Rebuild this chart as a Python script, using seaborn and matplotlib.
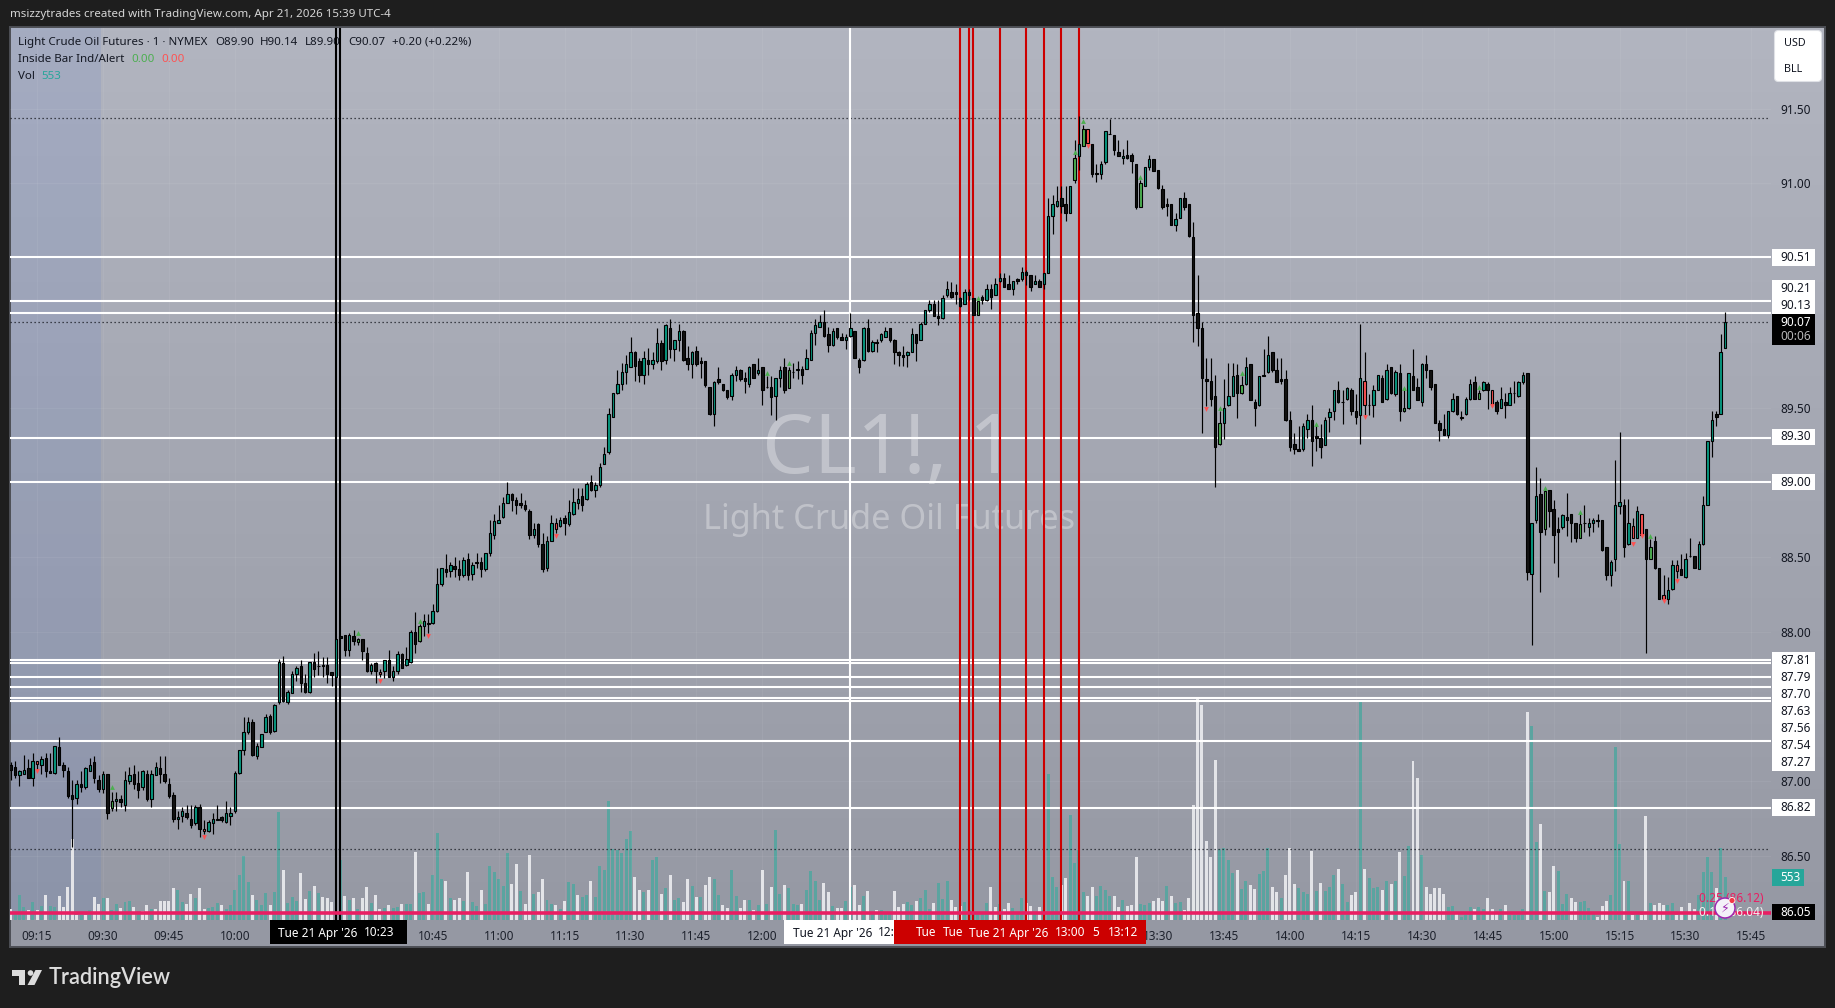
import numpy as np
import pandas as pd
import matplotlib
matplotlib.use("Agg")
import matplotlib.pyplot as plt
from matplotlib.colors import LinearSegmentedColormap
from matplotlib.patches import Rectangle, FancyBboxPatch, Polygon, Circle
import seaborn as sns

# ---------- data (one entry per 1-minute bar, 09:09 .. 15:39) ----------
body_top = [
87.11,87.10,87.07,87.08,87.09,87.14,87.14,87.15,87.16,87.07,
87.24,87.23,87.11,87.07,86.91,86.98,86.98,87.09,87.11,87.13,
87.01,87.05,87.05,86.87,86.88,86.88,87.01,87.04,87.05,86.99,
87.07,87.05,87.05,87.10,87.09,87.05,86.98,86.91,86.76,86.80,
86.79,86.75,86.83,86.83,86.68,86.73,86.75,86.75,86.76,86.79,
86.79,87.06,87.21,87.33,87.40,87.40,87.24,87.32,87.43,87.44,
87.51,87.80,87.79,87.60,87.72,87.76,87.77,87.66,87.80,87.80,
87.77,87.78,87.78,87.73,87.95,87.97,87.98,87.98,87.97,87.95,
87.95,87.86,87.78,87.79,87.73,87.81,87.81,87.74,87.85,87.85,
87.82,88.00,88.00,88.04,88.07,88.06,88.14,88.32,88.43,88.42,
88.45,88.44,88.42,88.48,88.49,88.45,88.47,88.47,88.53,88.66,
88.74,88.75,88.86,88.92,88.92,88.88,88.86,88.85,88.81,88.69,
88.72,88.59,88.61,88.73,88.73,88.75,88.76,88.80,88.87,88.89,
88.91,88.99,89.00,88.98,89.10,89.19,89.46,89.60,89.66,89.74,
89.79,89.87,89.87,89.81,89.83,89.82,89.82,89.93,89.93,90.05,
90.03,89.95,90.01,90.01,89.83,89.87,89.88,89.81,89.81,89.64,
89.67,89.69,89.66,89.62,89.72,89.75,89.75,89.70,89.77,89.79,
89.75,89.77,89.64,89.64,89.70,89.75,89.77,89.75,89.74,89.76,
89.76,89.83,90.00,90.05,90.07,90.07,89.99,90.01,90.03,89.97,
89.97,90.03,90.01,89.82,90.03,90.03,89.94,89.94,89.99,90.01,
90.03,89.95,89.87,89.85,89.87,89.99,89.99,90.06,90.15,90.19,
90.19,90.11,90.23,90.29,90.27,90.27,90.23,90.27,90.27,90.23,
90.21,90.24,90.29,90.29,90.33,90.37,90.37,90.33,90.35,90.36,
90.41,90.41,90.39,90.35,90.35,90.40,90.78,90.86,90.88,90.90,
90.86,90.98,91.17,91.26,91.36,91.36,91.26,91.07,91.13,91.35,
91.33,91.32,91.21,91.18,91.19,91.19,91.13,91.00,91.11,91.16,
91.16,91.09,90.96,90.86,90.86,90.76,90.90,90.90,90.86,90.64,
90.13,90.03,89.69,89.68,89.58,89.40,89.50,89.58,89.71,89.72,
89.65,89.77,89.79,89.54,89.71,89.72,89.85,89.87,89.75,89.69,
89.69,89.42,89.26,89.22,89.38,89.42,89.42,89.31,89.30,89.42,
89.47,89.62,89.62,89.54,89.63,89.62,89.48,89.70,89.68,89.52,
89.62,89.72,89.70,89.75,89.77,89.74,89.73,89.50,89.73,89.71,
89.64,89.79,89.79,89.75,89.66,89.40,89.36,89.48,89.56,89.58,
89.44,89.56,89.66,89.67,89.60,89.67,89.66,89.62,89.54,89.56,
89.54,89.60,89.60,89.67,89.72,89.73,88.73,88.91,88.92,88.94,
88.95,88.82,88.69,88.78,88.77,88.79,88.73,88.72,88.73,88.73,
88.75,88.75,88.75,88.57,88.47,88.85,88.87,88.85,88.73,88.71,
88.81,88.79,88.69,88.57,88.61,88.43,88.25,88.28,88.45,88.45,
88.42,88.49,88.51,88.51,88.59,88.85,89.28,89.42,89.46,89.87,90.07]
body_bot = [
87.08,87.04,87.04,87.05,87.02,87.02,87.12,87.11,87.07,87.06,
87.06,87.11,87.08,86.90,86.88,86.89,86.96,86.96,87.07,87.02,
86.95,86.95,86.79,86.82,86.87,86.86,86.84,87.00,86.98,86.94,
86.96,86.88,86.88,87.04,87.05,87.00,86.90,86.75,86.75,86.77,
86.76,86.71,86.72,86.68,86.67,86.67,86.72,86.74,86.74,86.73,
86.77,86.80,87.06,87.21,87.33,87.18,87.17,87.23,87.33,87.33,
87.34,87.53,87.54,87.53,87.59,87.72,87.66,87.60,87.60,87.75,
87.77,87.77,87.72,87.71,87.70,87.96,87.88,87.88,87.94,87.93,
87.87,87.74,87.74,87.74,87.72,87.74,87.70,87.70,87.74,87.76,
87.78,87.80,87.92,87.94,88.04,88.05,88.06,88.14,88.32,88.40,
88.41,88.42,88.38,88.38,88.38,88.39,88.46,88.42,88.42,88.53,
88.65,88.73,88.77,88.86,88.88,88.85,88.85,88.82,88.65,88.65,
88.59,88.42,88.43,88.61,88.69,88.71,88.73,88.72,88.79,88.86,
88.85,88.89,88.95,88.95,88.98,89.12,89.20,89.44,89.60,89.66,
89.74,89.77,89.78,89.72,89.72,89.79,89.79,89.81,89.81,89.82,
89.89,89.89,89.95,89.82,89.79,89.79,89.79,89.80,89.65,89.46,
89.46,89.67,89.62,89.57,89.58,89.72,89.69,89.68,89.66,89.70,
89.73,89.62,89.64,89.57,89.58,89.70,89.62,89.63,89.74,89.75,
89.72,89.76,89.82,90.00,90.04,89.98,89.92,89.92,89.97,89.95,
89.95,89.98,89.83,89.77,89.82,89.88,89.88,89.93,89.95,89.97,
89.95,89.87,89.85,89.84,89.85,89.87,89.93,89.95,90.06,90.15,
90.11,90.10,90.10,90.25,90.24,90.26,90.18,90.19,90.25,90.12,
90.12,90.22,90.22,90.24,90.25,90.35,90.31,90.29,90.29,90.35,
90.36,90.39,90.31,90.33,90.31,90.33,90.40,90.78,90.85,90.85,
90.80,90.80,91.02,91.18,91.25,91.27,91.06,91.06,91.06,91.14,
91.33,91.22,91.18,91.17,91.17,91.15,90.84,90.84,90.98,91.11,
91.08,90.97,90.84,90.85,90.72,90.72,90.77,90.84,90.65,90.12,
90.03,89.70,89.68,89.56,89.24,89.26,89.40,89.52,89.58,89.60,
89.60,89.66,89.55,89.50,89.52,89.71,89.74,89.75,89.67,89.68,
89.42,89.24,89.22,89.21,89.22,89.36,89.28,89.30,89.24,89.25,
89.44,89.48,89.54,89.54,89.56,89.48,89.44,89.45,89.52,89.52,
89.52,89.62,89.54,89.56,89.60,89.59,89.48,89.48,89.50,89.62,
89.55,89.54,89.75,89.64,89.40,89.35,89.32,89.32,89.48,89.46,
89.43,89.46,89.56,89.56,89.56,89.62,89.62,89.52,89.48,89.50,
89.52,89.52,89.60,89.58,89.67,88.40,88.39,88.75,88.67,88.69,
88.81,88.65,88.67,88.70,88.75,88.73,88.63,88.63,88.73,88.70,
88.73,88.74,88.55,88.38,88.38,88.49,88.84,88.57,88.59,88.63,
88.63,88.65,88.49,88.49,88.43,88.22,88.22,88.22,88.29,88.41,
88.38,88.37,88.51,88.43,88.42,88.59,88.85,89.28,89.44,89.46,89.90]
highs = [
87.13,87.14,87.08,87.18,87.15,87.19,87.14,87.17,87.19,87.19,
87.24,87.30,87.13,87.10,87.01,87.01,87.07,87.10,87.16,87.17,
87.04,87.07,87.05,86.93,86.93,86.91,87.07,87.10,87.11,87.07,
87.08,87.08,87.08,87.13,87.17,87.17,87.02,86.93,86.80,86.83,
86.84,86.84,86.84,86.85,86.74,86.74,86.79,86.84,86.77,86.87,
86.83,87.07,87.21,87.43,87.43,87.42,87.26,87.32,87.45,87.45,
87.52,87.82,87.84,87.61,87.74,87.77,87.81,87.72,87.80,87.86,
87.87,87.83,87.83,87.73,87.95,87.97,87.98,87.99,88.01,87.96,
87.95,87.90,87.79,87.80,87.75,87.81,87.88,87.77,87.87,87.86,
87.90,88.01,88.13,88.05,88.12,88.12,88.19,88.43,88.43,88.52,
88.47,88.50,88.48,88.50,88.53,88.47,88.53,88.50,88.53,88.75,
88.79,88.85,88.90,89.00,88.93,88.90,88.93,88.88,88.82,88.73,
88.73,88.66,88.64,88.78,88.76,88.77,88.78,88.88,88.96,88.96,
88.96,89.00,89.05,89.00,89.13,89.24,89.50,89.60,89.75,89.80,
89.85,89.97,89.88,89.83,89.88,89.90,89.87,90.03,89.95,90.06,
90.09,89.95,90.06,90.02,89.91,89.88,89.91,89.84,89.81,89.64,
89.68,89.77,89.66,89.62,89.73,89.78,89.76,89.74,89.78,89.79,
89.83,89.77,89.71,89.71,89.70,89.78,89.83,89.77,89.80,89.81,
89.78,89.89,90.02,90.09,90.12,90.15,90.04,90.03,90.03,90.00,
89.99,90.13,90.01,89.83,90.04,90.09,89.95,89.96,90.00,90.04,
90.03,89.96,89.88,89.91,89.88,90.03,89.99,90.07,90.15,90.22,
90.22,90.22,90.25,90.35,90.34,90.33,90.24,90.29,90.29,90.23,
90.21,90.25,90.33,90.33,90.37,90.40,90.40,90.39,90.35,90.37,
90.44,90.42,90.39,90.39,90.36,90.40,90.90,90.92,90.98,90.98,
90.98,90.98,91.29,91.45,91.39,91.36,91.26,91.13,91.15,91.35,
91.43,91.32,91.29,91.23,91.29,91.20,91.13,91.02,91.11,91.19,
91.16,91.09,90.99,90.90,90.86,90.80,90.90,90.94,90.86,90.74,
90.39,90.07,89.83,89.83,89.72,89.48,89.69,89.80,89.80,89.79,
89.71,89.84,89.79,89.56,89.71,89.89,89.98,89.87,89.83,89.83,
89.75,89.48,89.33,89.38,89.40,89.46,89.52,89.39,89.39,89.44,
89.50,89.62,89.68,89.62,89.64,89.63,89.59,90.06,89.87,89.59,
89.65,89.72,89.72,89.79,89.77,89.75,89.79,89.63,89.73,89.89,
89.70,89.80,89.85,89.75,89.66,89.42,89.46,89.48,89.60,89.58,
89.48,89.57,89.69,89.71,89.62,89.68,89.67,89.62,89.55,89.64,
89.60,89.64,89.68,89.68,89.74,89.73,88.73,89.10,89.03,88.96,
88.95,88.88,88.77,88.79,88.93,88.79,88.73,88.79,88.85,88.76,
88.76,88.79,88.75,88.57,88.48,89.15,89.34,88.89,88.89,88.76,
88.84,88.79,88.69,88.62,88.64,88.43,88.38,88.37,88.48,88.48,
88.52,88.53,88.63,88.51,88.61,88.91,89.28,89.48,89.48,89.99,90.14]
lows = [
87.01,87.02,86.97,87.05,87.02,86.97,87.08,87.05,87.03,87.06,
87.05,87.11,87.03,86.89,86.56,86.85,86.93,86.95,87.07,86.99,
86.93,86.92,86.75,86.80,86.80,86.83,86.80,86.98,86.95,86.89,
86.94,86.87,86.83,87.04,86.99,86.99,86.89,86.73,86.68,86.73,
86.75,86.69,86.71,86.63,86.65,86.66,86.65,86.74,86.73,86.72,
86.71,86.79,87.05,87.18,87.32,87.17,87.15,87.23,87.33,87.32,
87.33,87.52,87.53,87.52,87.59,87.67,87.60,87.59,87.59,87.70,
87.71,87.70,87.66,87.64,87.70,87.96,87.84,87.84,87.91,87.91,
87.81,87.73,87.72,87.66,87.70,87.69,87.70,87.67,87.72,87.76,
87.77,87.79,87.86,87.93,87.97,87.99,88.05,88.13,88.31,88.37,
88.37,88.37,88.35,88.37,88.35,88.35,88.43,88.37,88.41,88.51,
88.62,88.73,88.76,88.86,88.81,88.79,88.83,88.81,88.62,88.63,
88.57,88.40,88.41,88.61,88.66,88.70,88.65,88.71,88.78,88.82,
88.81,88.88,88.94,88.90,88.97,89.12,89.19,89.44,89.59,89.62,
89.66,89.77,89.68,89.67,89.66,89.72,89.76,89.80,89.75,89.79,
89.83,89.81,89.88,89.81,89.75,89.70,89.78,89.70,89.64,89.45,
89.38,89.66,89.61,89.56,89.55,89.68,89.68,89.60,89.64,89.70,
89.72,89.52,89.63,89.45,89.42,89.64,89.60,89.63,89.70,89.69,
89.66,89.76,89.82,89.92,90.04,89.97,89.87,89.91,89.96,89.95,
89.89,89.97,89.83,89.73,89.81,89.87,89.87,89.87,89.94,89.97,
89.94,89.79,89.78,89.78,89.77,89.87,89.81,89.95,90.06,90.14,
90.11,90.05,90.09,90.24,90.23,90.19,90.17,90.19,90.22,90.12,
90.12,90.19,90.21,90.16,90.25,90.34,90.31,90.29,90.25,90.33,
90.35,90.32,90.28,90.33,90.31,90.29,90.40,90.66,90.84,90.80,
90.75,90.80,91.00,91.09,91.25,91.27,91.04,91.01,91.03,91.13,
91.33,91.19,91.18,91.13,91.16,91.07,90.83,90.84,90.98,91.09,
91.08,90.96,90.83,90.78,90.72,90.68,90.77,90.82,90.64,89.94,
89.91,89.33,89.51,89.51,88.97,89.25,89.29,89.51,89.58,89.43,
89.59,89.65,89.55,89.38,89.51,89.71,89.73,89.74,89.67,89.66,
89.41,89.21,89.19,89.21,89.21,89.30,89.11,89.21,89.16,89.25,
89.34,89.42,89.53,89.39,89.55,89.45,89.39,89.26,89.45,89.45,
89.44,89.62,89.54,89.55,89.59,89.58,89.41,89.47,89.49,89.62,
89.55,89.51,89.70,89.62,89.40,89.28,89.32,89.30,89.47,89.45,
89.42,89.45,89.55,89.56,89.56,89.61,89.49,89.51,89.46,89.50,
89.43,89.52,89.53,89.57,89.66,88.35,87.91,88.73,88.27,88.65,
88.70,88.46,88.37,88.69,88.64,88.60,88.60,88.63,88.67,88.64,
88.67,88.70,88.54,88.35,88.31,88.41,88.79,88.50,88.58,88.63,
88.63,88.65,87.86,88.49,88.42,88.22,88.22,88.19,88.28,88.36,
88.38,88.36,88.50,88.43,88.42,88.58,88.85,89.17,89.38,89.46,89.90]
candle_kind = (
"kkggkgRgkk" "gkkkkgkggk" "kgkGgkggkk" "gkggkkkkgg" "kkgkRggkkg"
"gggggkgggk" "ggkgggkkgk" "kkkkgkkgkG" "kkgkRgkggk" "ggkGgRgggk"
"gkkgkgkkgg" "ggggkkkkkg" "kkggRgkggg" "kgkggggggg" "ggkkgkggkg"
"kggkkgkkkk" "gkkkggkkgk" "gkkkggkGkg" "kggggkkgkk" "ggkkgkgkgg"
"kkkkggkggg" "kkggkkkgkk" "Gkgkggkkgk" "gkkgkggggk" "kgGgGRkkgg"
"kkkgkkkGgg" "kkkkkggkkk" "kkkkkGgggk" "Ggkkgkgkkk" "kkkkggkkkg"
"ggkkgkkgRk" "ggkgkgkGgk" "kgkkkkkggk" "kggkGgkRkg" "kgkggkggkG"
"kkkgkkkGkg" "gkkkgggkgR" "gRkGkkRggR" "kgkkggggkgg")
volumes = [
144,70,319,166,131,223,122,179,319,179,166,306,166,424,1053,57,57,57,131,293,
201,280,284,131,197,149,227,240,166,114,114,188,135,144,240,240,240,411,385,227,
201,332,280,411,135,149,166,214,188,135,188,385,581,830,489,319,253,188,345,188,
358,1407,647,214,293,240,607,267,371,437,345,293,280,223,647,778,306,253,280,135,
280,424,214,319,135,149,188,149,166,201,201,201,883,345,358,201,581,1132,529,503,
280,253,280,240,621,227,175,385,201,699,621,529,437,865,463,725,371,201,843,332,
358,529,262,201,188,135,240,489,463,319,293,319,503,293,699,647,1551,922,909,865,
1053,1158,555,385,358,385,778,813,332,411,581,262,280,227,529,437,293,293,450,555,
529,319,188,149,647,306,149,253,253,122,188,647,201,424,1171,332,450,411,201,188,
201,385,634,503,253,476,358,175,149,149,240,428,450,188,306,371,70,122,131,79,
79,371,162,201,227,188,240,280,385,135,214,476,267,503,253,162,175,227,122,79,
70,70,214,424,162,201,135,214,149,79,280,214,175,70,162,122,1905,555,424,450,
542,1368,739,909,363,306,424,306,437,385,306,306,162,253,175,188,817,201,188,214,
240,280,240,437,306,214,227,122,280,1499,2910,2810,1027,817,2089,922,931,778,607,647,
398,503,450,398,594,634,931,424,358,280,581,931,463,411,358,332,896,371,476,371,
424,581,660,463,227,319,358,2862,660,542,411,424,385,503,463,503,883,568,961,2076,
1853,843,424,332,411,411,332,162,175,70,35,57,162,135,162,135,280,135,70,135,
188,57,57,57,135,2718,2535,1014,1250,371,358,699,634,201,332,280,227,227,240,149,
79,35,175,240,319,2259,988,503,503,57,79,57,1355,214,188,214,188,188,214,57,
162,57,214,135,319,621,817,621,411,931,553]
volume_dir = (
"wgggwgwgwg" "gwwwwwgwgw" "wgwggwggwg" "wwgwwwwwgg" "wwgwwgggwg"
"gggggwgggw" "ggwgggwwgw" "gwwwggwgwg" "wwgwwgwggw" "ggwggwgggw"
"gwwgwggwgg" "ggggwwgwwg" "wwggwgwggw" "ggwggggggg" "ggwwgwggwg"
"wggwwgwgww" "ggwwggwwgw" "gwgwggwggg" "wggggwwgww" "ggwwgwgwgg"
"gwwwggwggg" "wgggwwwggg" "gggwwgwwgg" "gwwgwggggw" "wggggwwggg"
"gwwgwwwggg" "wwwgwggwww" "wwwwwggggw" "ggwwgggwwg" "wwwgggwgwg"
"ggwggwwgwg" "ggwgwgwggw" "wgwwwwwggw" "gggwggwwwg" "wggggwggwg"
"wwgggwwggg" "gwwwgggwgw" "gwwgwwwggw" "wgwwggggwgg")
up_mark_idx = [23,79,93,172,177,220,242,244,257,275,280,297,317,334,349,357,373]
up_mark_px = [86.96,87.99,88.07,89.73,89.80,90.23,91.21,91.42,91.04,89.50,89.73,89.39,89.63,89.64,88.96,88.80,88.64]
down_mark_idx = [6,44,84,95,124,245,272,308,337,369,371,376,379]
down_mark_px = [87.07,86.63,87.67,87.97,88.64,91.25,89.49,89.44,89.51,88.59,88.64,88.21,88.34]
white_levels = [90.51,90.21,90.13,89.30,89.00,87.81,87.79,87.70,87.63,87.56,87.54,87.27,86.82]
dotted_levels = [91.44,90.07,86.55]
pink_level = 86.12
axis_ticks = [91.5,91.0,89.5,88.5,88.0,87.0,86.5]
black_vlines = [74,75]
white_vlines = [191]
red_vlines = [216,218,219,225,231,235,239,243]
time_idx = [6,21,36,51,96,111,126,141,156,171,261,276,291,306,321,336,351,366,381,396]
time_lab = ["09:15","09:30","09:45","10:00","10:45","11:00","11:15","11:30","11:45","12:00",
            "13:30","13:45","14:00","14:15","14:30","14:45","15:00","15:15","15:30","15:45"]
hour_labels = {"10:00","11:00","12:00","14:00","15:00"}
stack_labels = ["87.81","87.79","87.70","87.63","87.56","87.54","87.27"]

n = len(highs)
idx = np.arange(n)

W, H = 1835, 1008
sns.set_theme(style="white")
plt.rcParams["font.family"] = ["Noto Sans", "DejaVu Sans"]
fig = plt.figure(figsize=(W / 100, H / 100), dpi=100, facecolor="#1e1e1e")

def rect(x0, y0, x1, y1):
    return [x0 / W, 1 - y1 / H, (x1 - x0) / W, (y1 - y0) / H]

# pane background
bg = fig.add_axes(rect(10, 27, 1825, 947), zorder=0)
cmap = LinearSegmentedColormap.from_list("pane", ["#b2b5c0", "#9598a3"])
bg.imshow(np.linspace(0, 1, 256)[:, None], aspect="auto", cmap=cmap, extent=[0, 1, 0, 1], zorder=0)
bg.axvspan(0, 91 / 1815, ymin=28 / 920, ymax=1, color="#5577cc", alpha=0.14, lw=0, zorder=1)
bg.set_xticks([]); bg.set_yticks([])
for s in bg.spines.values():
    s.set_color("#4d4f55"); s.set_linewidth(1.4)

# full-figure pixel overlay for the label boxes
ov = fig.add_axes([0, 0, 1, 1], zorder=5)
ov.set_xlim(0, W); ov.set_ylim(H, 0); ov.axis("off"); ov.patch.set_alpha(0)

AX_BOX = rect(10, 27.5, 1771, 919.5)
XLIM = (-0.16, 400.44)
YLIM = (86.077, 92.042)
FS = 8.5

# volume
ax_v = fig.add_axes(AX_BOX, zorder=1)
ax_v.patch.set_alpha(0)
vol_df = pd.DataFrame({"i": idx, "vol": volumes, "dir": list(volume_dir)})
sns.barplot(data=vol_df, x="i", y="vol", hue="dir", dodge=False, native_scale=True,
            palette={"g": "#5ba4a0", "w": "#e3e4e8"}, saturation=1, width=0.68,
            errorbar=None, legend=False, ax=ax_v, linewidth=0)
ax_v.set_xlim(*XLIM); ax_v.set_ylim(0, 892 * 13.1)
ax_v.axis("off")

# price pane
ax = fig.add_axes(AX_BOX, zorder=2)
ax.patch.set_alpha(0)
ax.set_xlim(*XLIM); ax.set_ylim(*YLIM)
for s in ax.spines.values():
    s.set_visible(False)
ax.grid(True, color="white", alpha=0.06, lw=0.8)
ax.set_axisbelow(True)
ax.hlines(dotted_levels, XLIM[0], 399.8, color="#1c1f26", lw=0.9, linestyles=(0, (1, 2.2)), zorder=1.5)
ax.hlines(white_levels, XLIM[0], XLIM[1], color="white", lw=1.5, zorder=2)
ax.vlines(white_vlines, *YLIM, color="white", lw=1.5, zorder=2.2)
ax.vlines(red_vlines, *YLIM, color="#cc0000", lw=1.5, zorder=2.3)
ax.vlines(black_vlines, *YLIM, color="black", lw=1.5, zorder=2.4)
ax.hlines([pink_level], XLIM[0], XLIM[1], color="#e91e63", lw=2.6, zorder=2.5)

# candles
ax.vlines(idx, lows, highs, color="black", lw=0.85, zorder=3)
kind_colors = {"g": "#089981", "k": "#111111", "G": "#4caf50", "R": "#ff5252"}
top = np.array(body_top); bot = np.array(body_bot)
ax.bar(idx, top - bot, bottom=bot, width=0.56,
       color=[kind_colors[k] for k in candle_kind], edgecolor="black", linewidth=0.8, zorder=4)
ax.scatter(up_mark_idx, up_mark_px, marker="^", s=12, color="#4caf50", lw=0, zorder=5)
ax.scatter(down_mark_idx, down_mark_px, marker="v", s=12, color="#ff5252", lw=0, zorder=5)

# axes ticks
ax.yaxis.tick_right()
ax.set_yticks(axis_ticks)
ax.set_yticklabels([f"{t:.2f}" for t in axis_ticks], fontsize=FS, color="#131722")
ax.tick_params(axis="y", length=0, pad=6.5)
ax.set_xticks(time_idx)
ax.set_xticklabels(time_lab, fontsize=FS, color="#1e222d")
for lab in ax.get_xticklabels():
    if lab.get_text() in hour_labels:
        lab.set_fontweight("bold")
ax.tick_params(axis="x", length=0, pad=7.5)

# text under the lines: title block & watermark
def btext(x, y, s, **kw):
    kw.setdefault("va", "center"); kw.setdefault("fontsize", 8.3); kw.setdefault("color", "#131722")
    return bg.text(x, y, s, transform=ov.transData, **kw)

btext(889, 452, "CL1!, 1", ha="center", fontsize=59, color="white", alpha=0.33)
btext(889, 520, "Light Crude Oil Futures", ha="center", fontsize=24.7, color="white", alpha=0.33)
btext(18, 42.5, "Light Crude Oil Futures · 1 · NYMEX")
btext(215.5, 42.5, "O89.90"); btext(260, 42.5, "H90.14"); btext(305, 42.5, "L89.90")
btext(348, 42.5, "C90.07"); btext(392, 42.5, "+0.20 (+0.22%)")
btext(18, 59.5, "Inside Bar Ind/Alert")
btext(131, 59.5, "0.00", color="#4caf50"); btext(161, 59.5, "0.00", color="#ff5252")
btext(18, 76.5, "Vol"); btext(41.5, 76.5, "553", color="#26a69a")

# overlay text and boxes
def box(x0, y0, x1, y1, color, z=3):
    ov.add_patch(Rectangle((x0, y0), x1 - x0, y1 - y0, facecolor=color, edgecolor="none", zorder=z))

def otext(x, y, s, **kw):
    kw.setdefault("va", "center"); kw.setdefault("fontsize", FS); kw.setdefault("color", "#131722"); kw.setdefault("zorder", 4)
    ov.text(x, y, s, **kw)

ov.text(10, 15, "msizzytrades created with TradingView.com, Apr 21, 2026 15:39 UTC-4",
        fontsize=8.3, color="#d6d6d6", va="center")

# USD / BLL
ov.add_patch(FancyBboxPatch((1777, 33), 42, 46, boxstyle="round,pad=2.5,rounding_size=4",
                            facecolor="white", edgecolor="#dfe1e6", lw=0.8, zorder=3))
otext(1784, 44, "USD", fontsize=7.8); otext(1784, 70, "BLL", fontsize=7.8)

# price labels
LX0, LX1, TX = 1772, 1815, 1780
box(LX0, 249, LX1, 265.6, "white"); otext(TX, 257.5, "90.51")
box(LX0, 280, LX1, 314, "white"); otext(TX, 288.5, "90.21"); otext(TX, 305.5, "90.13")
box(LX0, 314, LX1, 345, "black")
otext(TX, 322.5, "90.07", color="white", fontweight="bold"); otext(TX, 336.5, "00:06", color="#b8b8b8")
box(LX0, 429, LX1, 445, "white"); otext(TX, 437, "89.30")
box(LX0, 474, LX1, 490, "white"); otext(TX, 482, "89.00")
box(LX0, 652, LX1, 770.6, "white")
for k, lab in enumerate(stack_labels):
    otext(TX, 660.7 + 17 * k, lab)
box(LX0, 799, LX1, 815.6, "white"); otext(TX, 807.5, "86.82")
box(LX0, 869, 1804, 885.7, "#26a69a"); otext(TX, 877.5, "553", color="white", fontweight="bold")
box(LX0, 904, LX1, 919.5, "black"); otext(TX, 912, "86.05", color="white")

# pink / white indicator labels + badge
otext(1763, 899, "0.25 (86.12)", ha="right", color="#e91e63")
otext(1763, 912, "0.17 (86.04)", ha="right", color="#f0f0f0", fontweight="bold")
ov.add_patch(Circle((1725, 908), 10, facecolor="#f4f1f8", edgecolor="#9c27b0", lw=1.1, zorder=6))
ov.text(1725, 908.5, "⚡", family="DejaVu Sans", fontsize=9, color="#9c27b0", ha="center", va="center", zorder=7)
ov.add_patch(Circle((1732, 900.5), 3, facecolor="#f23645", edgecolor="white", lw=0.6, zorder=8))

# time crosshair labels
box(270, 920, 406.5, 944, "black")
otext(278, 933, "Tue 21 Apr '26", color="white"); otext(364, 933, "10:23", color="white")
box(784, 920, 895, 944, "white")
otext(793, 933, "Tue 21 Apr '26"); otext(878, 933, "12:")
box(894, 920, 1146, 944, "#cc0000")
for xx, ss in [(916, "Tue"), (943, "Tue"), (969, "Tue 21 Apr '26"), (1054.6, "13:00"), (1092, "5"), (1107.5, "13:12")]:
    otext(xx, 933, ss, color="white")

# TradingView logo
logo = "#dcdcdc"
ov.add_patch(Polygon([(12, 970), (25, 970), (25, 985), (18.5, 985), (18.5, 976), (12, 976)], facecolor=logo, edgecolor="none"))
ov.add_patch(Circle((30.5, 973), 2.8, facecolor=logo, edgecolor="none"))
ov.add_patch(Polygon([(35.5, 970), (42, 970), (34.5, 985), (27.5, 985)], facecolor=logo, edgecolor="none"))
ov.text(49, 977, "TradingView", fontsize=15.6, color=logo, va="center", family="Lato", fontweight="semibold")

fig.savefig("out.png", dpi=100, facecolor=fig.get_facecolor())
